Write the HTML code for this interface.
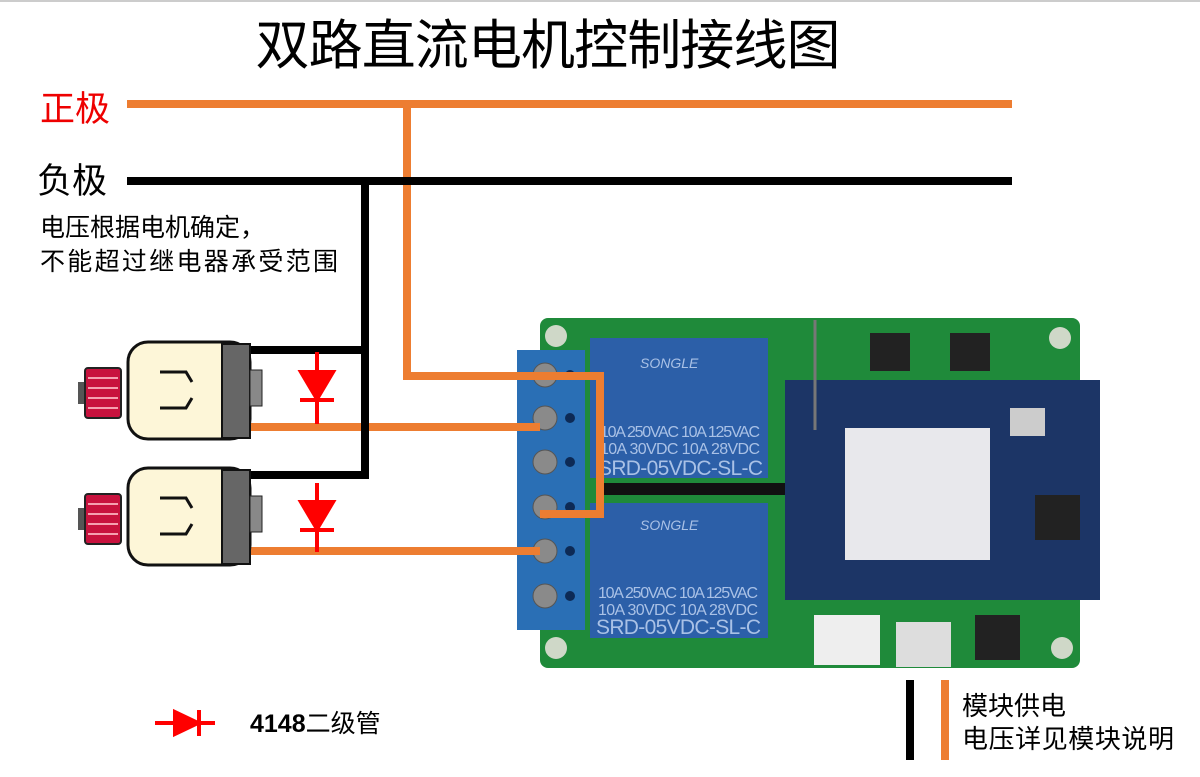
<!DOCTYPE html>
<html><head><meta charset="utf-8"><style>
body{margin:0;background:#fff;}
svg{display:block;font-family:"Liberation Sans","Noto Sans CJK SC",sans-serif;}
</style></head><body>
<svg width="1200" height="777" viewBox="0 0 1200 777" xmlns="http://www.w3.org/2000/svg">
<line x1="0" y1="1" x2="1200" y2="1" stroke="#999" stroke-width="1"/>
<text x="548" y="64" font-size="54" text-anchor="middle" fill="#000" font-family="'Noto Sans CJK SC',sans-serif" textLength="585">双路直流电机控制接线图</text>
<text x="40" y="121" font-size="35" fill="#e00">正极</text>
<text x="37" y="193" font-size="35" fill="#000">负极</text>
<text x="40" y="236" font-size="25" fill="#000">电压根据电机确定，</text>
<text x="40" y="270" font-size="25" fill="#000" textLength="298">不能超过继电器承受范围</text>

<!-- board -->
<rect x="540" y="318" width="540" height="350" rx="8" fill="#1f8a3a"/>
<circle cx="556" cy="336" r="11" fill="#cfd8c8"/><circle cx="1060" cy="338" r="11" fill="#cfd8c8"/>
<circle cx="556" cy="648" r="11" fill="#cfd8c8"/><circle cx="1062" cy="648" r="11" fill="#cfd8c8"/>
<rect x="517" y="350" width="68" height="280" fill="#2a6fb5"/>
<g fill="#8a8a8a" stroke="#555">
<circle cx="545" cy="375" r="12"/><circle cx="545" cy="418" r="12"/><circle cx="545" cy="462" r="12"/>
<circle cx="545" cy="507" r="12"/><circle cx="545" cy="551" r="12"/><circle cx="545" cy="596" r="12"/></g>
<g fill="#0d2a55"><circle cx="570" cy="375" r="5"/><circle cx="570" cy="418" r="5"/><circle cx="570" cy="462" r="5"/><circle cx="570" cy="507" r="5"/><circle cx="570" cy="551" r="5"/><circle cx="570" cy="596" r="5"/></g>
<rect x="590" y="338" width="178" height="140" fill="#2c5fa8"/>
<rect x="590" y="503" width="178" height="135" fill="#2c5fa8"/>
<rect x="600" y="483" width="190" height="12" fill="#111"/>
<g fill="#a9c1e6" font-size="16">
<text x="640" y="368" font-style="italic" font-size="14">SONGLE</text>
<text x="600" y="437" textLength="160">10A 250VAC  10A 125VAC</text>
<text x="600" y="454" textLength="160">10A 30VDC  10A 28VDC</text>
<text x="598" y="475" font-size="21" textLength="165">SRD-05VDC-SL-C</text>
<text x="640" y="530" font-style="italic" font-size="14">SONGLE</text>
<text x="598" y="598" textLength="160">10A 250VAC  10A 125VAC</text>
<text x="598" y="615" textLength="160">10A 30VDC  10A 28VDC</text>
<text x="596" y="634" font-size="21" textLength="165">SRD-05VDC-SL-C</text></g>
<rect x="785" y="380" width="315" height="220" fill="#1c3566"/>
<rect x="845" y="428" width="145" height="132" fill="#e8e8ec"/>
<g fill="#222"><rect x="870" y="333" width="40" height="38"/><rect x="950" y="333" width="40" height="38"/>
<rect x="1035" y="495" width="45" height="45"/></g>
<rect x="1010" y="408" width="35" height="28" fill="#ccc"/>
<rect x="814" y="615" width="66" height="50" fill="#eee"/>
<rect x="896" y="622" width="55" height="45" fill="#ddd"/>
<rect x="975" y="615" width="45" height="45" fill="#222"/>
<line x1="815" y1="320" x2="815" y2="430" stroke="#777" stroke-width="3"/>

<!-- wires -->
<g stroke="#ed7d31" stroke-width="8" fill="none">
<line x1="127" y1="104" x2="1012" y2="104"/>
<polyline points="407,104 407,376 600,376 600,514 540,514"/>
<line x1="245" y1="427" x2="540" y2="427"/>
<line x1="245" y1="551" x2="540" y2="551"/>
<line x1="945" y1="680" x2="945" y2="760"/>
</g>
<g stroke="#000" stroke-width="8" fill="none">
<line x1="127" y1="181" x2="1012" y2="181"/>
<polyline points="248,350 365,350 365,181"/>
<polyline points="248,475 365,475 365,350"/>
<line x1="910" y1="680" x2="910" y2="760"/>
</g>
<!-- diodes -->
<g stroke="#f00" stroke-width="4" fill="#f00">
<line x1="317" y1="352" x2="317" y2="424"/><polygon points="301,372 333,372 317,399"/><line x1="300" y1="400" x2="334" y2="400"/>
<line x1="317" y1="483" x2="317" y2="552"/><polygon points="301,502 333,502 317,529"/><line x1="300" y1="530" x2="334" y2="530"/>
<line x1="155" y1="723" x2="215" y2="723"/><polygon points="175,712 175,734 198,723"/><line x1="199" y1="710" x2="199" y2="736"/>
</g>
<!-- motors -->
<g id="m">
<rect x="78" y="382" width="12" height="22" fill="#555"/>
<rect x="85" y="368" width="36" height="50" rx="3" fill="#c8123e" stroke="#222" stroke-width="2"/>
<g stroke="#f5a0b0" stroke-width="2"><line x1="88" y1="378" x2="118" y2="378"/><line x1="88" y1="388" x2="118" y2="388"/><line x1="88" y1="398" x2="118" y2="398"/><line x1="88" y1="408" x2="118" y2="408"/></g>
<rect x="128" y="342" width="122" height="97" rx="20" fill="#fdf6d8" stroke="#111" stroke-width="3"/>
<rect x="222" y="344" width="28" height="94" fill="#666" stroke="#111" stroke-width="2"/>
<rect x="250" y="370" width="12" height="36" fill="#888" stroke="#222"/>
<path d="M160 372 H186 L192 382 M160 408 H186 L192 398" stroke="#111" stroke-width="3" fill="none"/>
</g>
<use href="#m" y="126"/>
<text x="250" y="732" font-size="25" font-weight="bold" fill="#000">4148<tspan font-weight="normal">二级管</tspan></text>
<text x="962" y="715" font-size="26" fill="#000">模块供电</text>
<text x="962" y="748" font-size="26" fill="#000" textLength="212">电压详见模块说明</text>
</svg>
</body></html>
